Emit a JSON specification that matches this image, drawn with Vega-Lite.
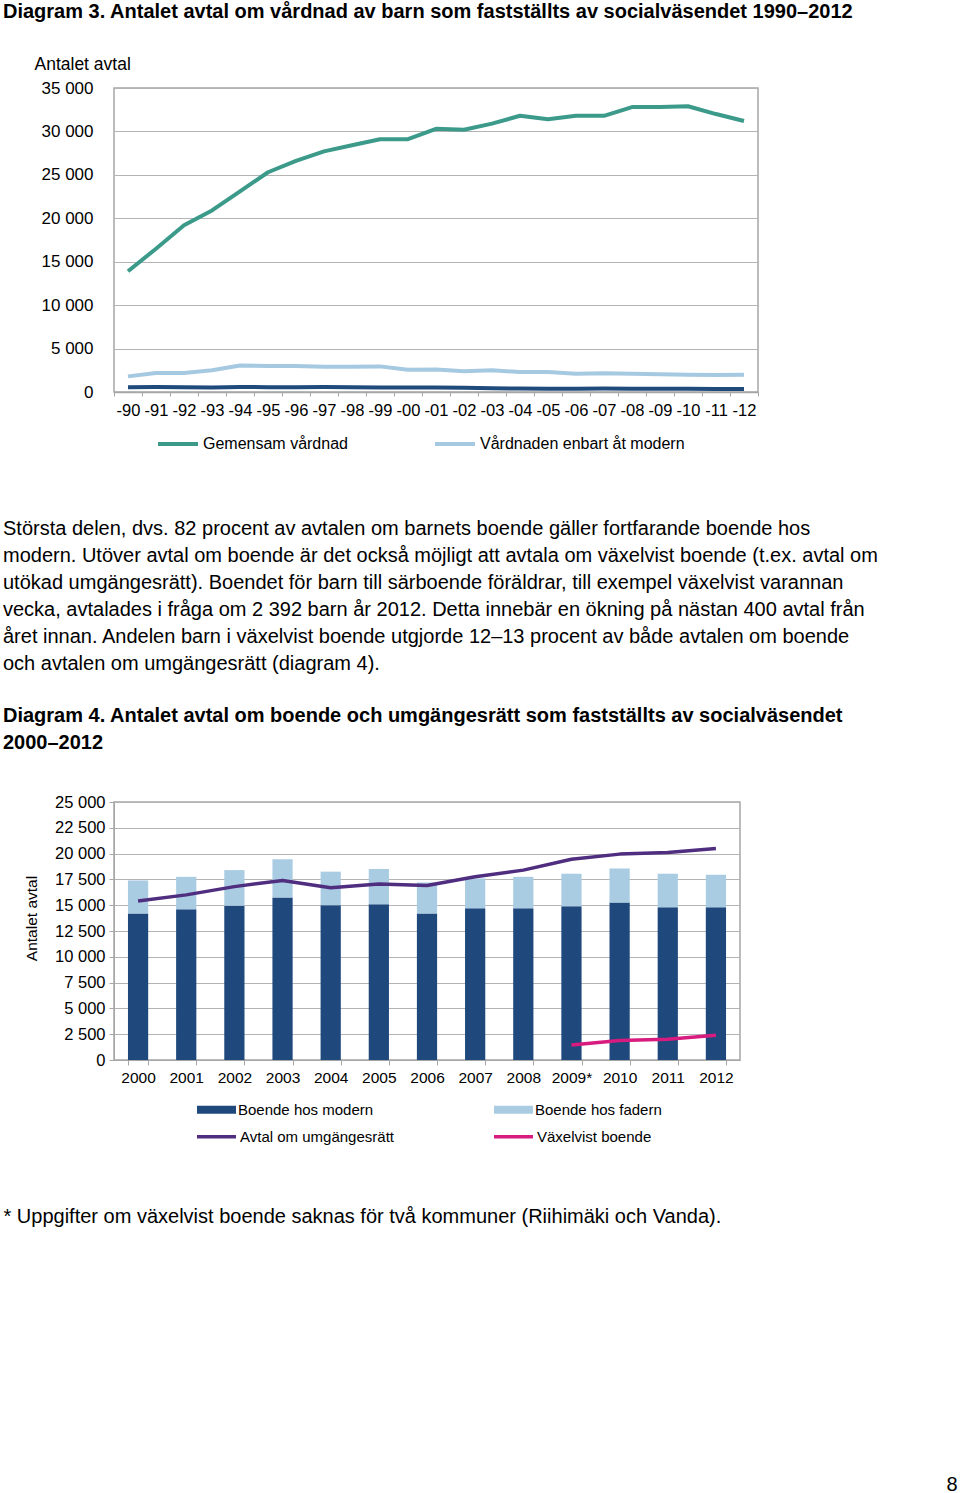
{
  "$schema": "https://vega.github.io/schema/vega-lite/v6.json",
  "padding": {"left": 2, "top": 1, "right": 0, "bottom": 0},
  "background": "white",
  "config": {
    "font": "Liberation Sans",
    "view": {"stroke": "#A6A6A6", "strokeWidth": 1.5},
    "axis": {"labelColor": "black", "titleColor": "black", "labelFont": "Liberation Sans", "titleFont": "Liberation Sans", "gridColor": "#B4B4B4", "gridWidth": 1.2, "domainColor": "#A6A6A6", "tickColor": "#A6A6A6"},
    "legend": {"labelColor": "black", "labelFont": "Liberation Sans", "padding": 0, "labelLimit": 0}
  },
  "title": {"text": "8", "orient": "bottom", "anchor": "end", "offset": 248, "dx": 79, "fontSize": 20, "fontWeight": "normal", "font": "Liberation Sans", "color": "black"},
  "resolve": {"scale": {"stroke": "independent", "fill": "independent"}, "legend": {"stroke": "independent", "fill": "independent"}},
  "datasets": {
    "d3": [
      {"ar": "-90", "serie": "Gemensam vårdnad", "antal": 13900},
      {"ar": "-91", "serie": "Gemensam vårdnad", "antal": 16500},
      {"ar": "-92", "serie": "Gemensam vårdnad", "antal": 19200},
      {"ar": "-93", "serie": "Gemensam vårdnad", "antal": 20900},
      {"ar": "-94", "serie": "Gemensam vårdnad", "antal": 23100},
      {"ar": "-95", "serie": "Gemensam vårdnad", "antal": 25300},
      {"ar": "-96", "serie": "Gemensam vårdnad", "antal": 26600},
      {"ar": "-97", "serie": "Gemensam vårdnad", "antal": 27700},
      {"ar": "-98", "serie": "Gemensam vårdnad", "antal": 28400},
      {"ar": "-99", "serie": "Gemensam vårdnad", "antal": 29100},
      {"ar": "-00", "serie": "Gemensam vårdnad", "antal": 29100},
      {"ar": "-01", "serie": "Gemensam vårdnad", "antal": 30300},
      {"ar": "-02", "serie": "Gemensam vårdnad", "antal": 30200},
      {"ar": "-03", "serie": "Gemensam vårdnad", "antal": 30900},
      {"ar": "-04", "serie": "Gemensam vårdnad", "antal": 31800},
      {"ar": "-05", "serie": "Gemensam vårdnad", "antal": 31400},
      {"ar": "-06", "serie": "Gemensam vårdnad", "antal": 31800},
      {"ar": "-07", "serie": "Gemensam vårdnad", "antal": 31800},
      {"ar": "-08", "serie": "Gemensam vårdnad", "antal": 32800},
      {"ar": "-09", "serie": "Gemensam vårdnad", "antal": 32800},
      {"ar": "-10", "serie": "Gemensam vårdnad", "antal": 32900},
      {"ar": "-11", "serie": "Gemensam vårdnad", "antal": 32000},
      {"ar": "-12", "serie": "Gemensam vårdnad", "antal": 31200},
      {"ar": "-90", "serie": "Vårdnaden enbart åt modern", "antal": 1800},
      {"ar": "-91", "serie": "Vårdnaden enbart åt modern", "antal": 2200},
      {"ar": "-92", "serie": "Vårdnaden enbart åt modern", "antal": 2200},
      {"ar": "-93", "serie": "Vårdnaden enbart åt modern", "antal": 2500},
      {"ar": "-94", "serie": "Vårdnaden enbart åt modern", "antal": 3050},
      {"ar": "-95", "serie": "Vårdnaden enbart åt modern", "antal": 3000},
      {"ar": "-96", "serie": "Vårdnaden enbart åt modern", "antal": 3000},
      {"ar": "-97", "serie": "Vårdnaden enbart åt modern", "antal": 2900},
      {"ar": "-98", "serie": "Vårdnaden enbart åt modern", "antal": 2900},
      {"ar": "-99", "serie": "Vårdnaden enbart åt modern", "antal": 2950},
      {"ar": "-00", "serie": "Vårdnaden enbart åt modern", "antal": 2550},
      {"ar": "-01", "serie": "Vårdnaden enbart åt modern", "antal": 2600},
      {"ar": "-02", "serie": "Vårdnaden enbart åt modern", "antal": 2400},
      {"ar": "-03", "serie": "Vårdnaden enbart åt modern", "antal": 2500},
      {"ar": "-04", "serie": "Vårdnaden enbart åt modern", "antal": 2300},
      {"ar": "-05", "serie": "Vårdnaden enbart åt modern", "antal": 2300},
      {"ar": "-06", "serie": "Vårdnaden enbart åt modern", "antal": 2100},
      {"ar": "-07", "serie": "Vårdnaden enbart åt modern", "antal": 2150},
      {"ar": "-08", "serie": "Vårdnaden enbart åt modern", "antal": 2100},
      {"ar": "-09", "serie": "Vårdnaden enbart åt modern", "antal": 2050},
      {"ar": "-10", "serie": "Vårdnaden enbart åt modern", "antal": 2000},
      {"ar": "-11", "serie": "Vårdnaden enbart åt modern", "antal": 1950},
      {"ar": "-12", "serie": "Vårdnaden enbart åt modern", "antal": 2000},
      {"ar": "-90", "serie": "Vårdnaden enbart åt fadern", "antal": 550},
      {"ar": "-91", "serie": "Vårdnaden enbart åt fadern", "antal": 580},
      {"ar": "-92", "serie": "Vårdnaden enbart åt fadern", "antal": 560},
      {"ar": "-93", "serie": "Vårdnaden enbart åt fadern", "antal": 530},
      {"ar": "-94", "serie": "Vårdnaden enbart åt fadern", "antal": 580},
      {"ar": "-95", "serie": "Vårdnaden enbart åt fadern", "antal": 560},
      {"ar": "-96", "serie": "Vårdnaden enbart åt fadern", "antal": 560},
      {"ar": "-97", "serie": "Vårdnaden enbart åt fadern", "antal": 570},
      {"ar": "-98", "serie": "Vårdnaden enbart åt fadern", "antal": 540},
      {"ar": "-99", "serie": "Vårdnaden enbart åt fadern", "antal": 530},
      {"ar": "-00", "serie": "Vårdnaden enbart åt fadern", "antal": 520},
      {"ar": "-01", "serie": "Vårdnaden enbart åt fadern", "antal": 510},
      {"ar": "-02", "serie": "Vårdnaden enbart åt fadern", "antal": 500},
      {"ar": "-03", "serie": "Vårdnaden enbart åt fadern", "antal": 420},
      {"ar": "-04", "serie": "Vårdnaden enbart åt fadern", "antal": 400},
      {"ar": "-05", "serie": "Vårdnaden enbart åt fadern", "antal": 380},
      {"ar": "-06", "serie": "Vårdnaden enbart åt fadern", "antal": 380},
      {"ar": "-07", "serie": "Vårdnaden enbart åt fadern", "antal": 400},
      {"ar": "-08", "serie": "Vårdnaden enbart åt fadern", "antal": 380},
      {"ar": "-09", "serie": "Vårdnaden enbart åt fadern", "antal": 360},
      {"ar": "-10", "serie": "Vårdnaden enbart åt fadern", "antal": 360},
      {"ar": "-11", "serie": "Vårdnaden enbart åt fadern", "antal": 340},
      {"ar": "-12", "serie": "Vårdnaden enbart åt fadern", "antal": 340}
    ],
    "bars": [
      {"ar": "2000", "serie": "Boende hos modern", "antal": 14200},
      {"ar": "2001", "serie": "Boende hos modern", "antal": 14600},
      {"ar": "2002", "serie": "Boende hos modern", "antal": 14950},
      {"ar": "2003", "serie": "Boende hos modern", "antal": 15750},
      {"ar": "2004", "serie": "Boende hos modern", "antal": 15000},
      {"ar": "2005", "serie": "Boende hos modern", "antal": 15100},
      {"ar": "2006", "serie": "Boende hos modern", "antal": 14200},
      {"ar": "2007", "serie": "Boende hos modern", "antal": 14700},
      {"ar": "2008", "serie": "Boende hos modern", "antal": 14700},
      {"ar": "2009*", "serie": "Boende hos modern", "antal": 14900},
      {"ar": "2010", "serie": "Boende hos modern", "antal": 15250},
      {"ar": "2011", "serie": "Boende hos modern", "antal": 14800},
      {"ar": "2012", "serie": "Boende hos modern", "antal": 14800},
      {"ar": "2000", "serie": "Boende hos fadern", "antal": 3200},
      {"ar": "2001", "serie": "Boende hos fadern", "antal": 3150},
      {"ar": "2002", "serie": "Boende hos fadern", "antal": 3450},
      {"ar": "2003", "serie": "Boende hos fadern", "antal": 3700},
      {"ar": "2004", "serie": "Boende hos fadern", "antal": 3250},
      {"ar": "2005", "serie": "Boende hos fadern", "antal": 3400},
      {"ar": "2006", "serie": "Boende hos fadern", "antal": 3000},
      {"ar": "2007", "serie": "Boende hos fadern", "antal": 2900},
      {"ar": "2008", "serie": "Boende hos fadern", "antal": 3050},
      {"ar": "2009*", "serie": "Boende hos fadern", "antal": 3150},
      {"ar": "2010", "serie": "Boende hos fadern", "antal": 3300},
      {"ar": "2011", "serie": "Boende hos fadern", "antal": 3250},
      {"ar": "2012", "serie": "Boende hos fadern", "antal": 3150}
    ],
    "lines": [
      {"ar": "2000", "serie": "Avtal om umgängesrätt", "antal": 15400},
      {"ar": "2001", "serie": "Avtal om umgängesrätt", "antal": 16000},
      {"ar": "2002", "serie": "Avtal om umgängesrätt", "antal": 16800},
      {"ar": "2003", "serie": "Avtal om umgängesrätt", "antal": 17400},
      {"ar": "2004", "serie": "Avtal om umgängesrätt", "antal": 16700},
      {"ar": "2005", "serie": "Avtal om umgängesrätt", "antal": 17050},
      {"ar": "2006", "serie": "Avtal om umgängesrätt", "antal": 16900},
      {"ar": "2007", "serie": "Avtal om umgängesrätt", "antal": 17750},
      {"ar": "2008", "serie": "Avtal om umgängesrätt", "antal": 18400},
      {"ar": "2009*", "serie": "Avtal om umgängesrätt", "antal": 19450},
      {"ar": "2010", "serie": "Avtal om umgängesrätt", "antal": 19950},
      {"ar": "2011", "serie": "Avtal om umgängesrätt", "antal": 20100},
      {"ar": "2012", "serie": "Avtal om umgängesrätt", "antal": 20500},
      {"ar": "2009*", "serie": "Växelvist boende", "antal": 1450},
      {"ar": "2010", "serie": "Växelvist boende", "antal": 1900},
      {"ar": "2011", "serie": "Växelvist boende", "antal": 2000},
      {"ar": "2012", "serie": "Växelvist boende", "antal": 2392}
    ]
  },
  "spacing": 66,
  "vconcat": [
    {
      "vconcat": [
        {
          "width": 644,
          "height": 304,
          "title": {
            "text": "Diagram 3. Antalet avtal om vårdnad av barn som fastställts av socialväsendet 1990–2012",
            "frame": "group", "anchor": "start", "dx": -111, "offset": 33,
            "fontSize": 20, "fontWeight": "bold", "font": "Liberation Sans", "color": "black"
          },
          "data": {"name": "d3"},
          "mark": {"type": "line", "strokeWidth": 4, "strokeJoin": "round"},
          "encoding": {
            "x": {
              "field": "ar", "type": "ordinal", "sort": null, "bandPosition": 0.5,
              "scale": {"type": "band", "paddingInner": 0, "paddingOuter": 0},
              "axis": {"title": null, "labelAngle": 0, "labelFontSize": 16.5, "labelOverlap": false, "ticks": true, "tickBand": "extent", "tickSize": 4, "labelPadding": 6, "grid": false, "domainWidth": 1.5}
            },
            "y": {
              "field": "antal", "type": "quantitative",
              "scale": {"domain": [0, 35000]},
              "axis": {
                "values": [0, 5000, 10000, 15000, 20000, 25000, 30000, 35000],
                "labelExpr": "replace(format(datum.value, ','), ',', ' ')",
                "labelFontSize": 17, "labelOverlap": false, "ticks": false, "labelPadding": 21, "domain": false,
                "title": "Antalet avtal", "titleAngle": 0, "titleX": -80, "titleY": -19,
                "titleAlign": "left", "titleBaseline": "alphabetic", "titleFontSize": 17.5, "titleFontWeight": "normal"
              }
            },
            "stroke": {
              "field": "serie", "type": "nominal",
              "scale": {"domain": ["Gemensam vårdnad", "Vårdnaden enbart åt modern", "Vårdnaden enbart åt fadern"], "range": ["#3B9A8A", "#A6C9E2", "#1F4A7C"]},
              "legend": {
                "orient": "none", "legendX": 42, "legendY": 334, "direction": "horizontal", "columns": 2,
                "title": null, "values": ["Gemensam vårdnad", "Vårdnaden enbart åt modern"],
                "symbolType": "stroke", "symbolSize": 1600, "symbolStrokeWidth": 4,
                "labelFontSize": 16, "labelOffset": 3, "columnPadding": 79
              }
            }
          }
        }
      ]
    },
    {
      "vconcat": [
        {
          "width": 626,
          "height": 258,
          "title": {
            "text": [
              "Största delen, dvs. 82 procent av avtalen om barnets boende gäller fortfarande boende hos",
              "modern. Utöver avtal om boende är det också möjligt att avtala om växelvist boende (t.ex. avtal om",
              "utökad umgängesrätt). Boendet för barn till särboende föräldrar, till exempel växelvist varannan",
              "vecka, avtalades i fråga om 2 392 barn år 2012. Detta innebär en ökning på nästan 400 avtal från",
              "året innan. Andelen barn i växelvist boende utgjorde 12–13 procent av både avtalen om boende",
              "och avtalen om umgängesrätt (diagram 4)."
            ],
            "subtitle": [
              "Diagram 4. Antalet avtal om boende och umgängesrätt som fastställts av socialväsendet",
              "2000–2012"
            ],
            "frame": "group", "anchor": "start", "dx": -111, "offset": 41,
            "fontSize": 20, "fontWeight": "normal", "font": "Liberation Sans", "color": "black", "lineHeight": 27,
            "subtitleFont": "Liberation Sans", "subtitleFontSize": 20, "subtitleFontWeight": "bold", "subtitleColor": "black",
            "subtitleLineHeight": 27, "subtitlePadding": 32
          },
          "encoding": {
            "y": {
              "field": "antal", "type": "quantitative",
              "scale": {"domain": [0, 25000]},
              "axis": {
                "values": [0, 2500, 5000, 7500, 10000, 12500, 15000, 17500, 20000, 22500, 25000],
                "labelExpr": "replace(format(datum.value, ','), ',', ' ')",
                "labelFontSize": 16.5, "labelOverlap": false, "ticks": true, "tickSize": 5, "labelPadding": 4, "domain": true,
                "title": "Antalet avtal", "titleAngle": 270, "titleX": -83, "titleY": 116,
                "titleAlign": "center", "titleBaseline": "middle", "titleFontSize": 15.5, "titleFontWeight": "normal"
              }
            }
          },
          "layer": [
            {
              "data": {"name": "bars"},
              "mark": {"type": "bar"},
              "encoding": {
                "x": {
                  "field": "ar", "type": "ordinal",
                  "scale": {"type": "band", "paddingInner": 0.58, "paddingOuter": 0.29},
                  "axis": {
                    "labelAngle": 0, "labelFontSize": 15.5, "labelOverlap": false, "ticks": true, "tickBand": "extent", "tickSize": 5, "labelPadding": 5, "grid": false,
                    "title": "* Uppgifter om växelvist boende saknas för två kommuner (Riihimäki och Vanda).",
                    "titleX": -111, "titleY": 162, "titleAlign": "left", "titleBaseline": "alphabetic",
                    "titleFontSize": 20, "titleFontWeight": "normal"
                  }
                },
                "fill": {
                  "field": "serie", "type": "nominal",
                  "scale": {"domain": ["Boende hos modern", "Boende hos fadern"], "range": ["#1F497D", "#A9CCE3"]},
                  "legend": {
                    "orient": "none", "legendX": 83, "legendY": 288, "direction": "horizontal", "columns": 2,
                    "title": null, "symbolType": "M-1,-0.2H1V0.2H-1Z", "symbolSize": 1521, "symbolStrokeWidth": 0,
                    "labelFontSize": 15, "labelOffset": 2, "columnPadding": 120
                  }
                },
                "order": {"field": "serie", "sort": "descending"}
              }
            },
            {
              "data": {"name": "lines"},
              "mark": {"type": "line", "strokeWidth": 3.5, "strokeJoin": "round"},
              "encoding": {
                "x": {"field": "ar", "type": "ordinal", "bandPosition": 0.5},
                "stroke": {
                  "field": "serie", "type": "nominal",
                  "scale": {"domain": ["Avtal om umgängesrätt", "Växelvist boende"], "range": ["#4F2D7F", "#D81B7E"]},
                  "legend": {
                    "orient": "none", "legendX": 81, "legendY": 313, "direction": "horizontal", "columns": 2,
                    "title": null, "symbolType": "stroke", "symbolSize": 1521, "symbolStrokeWidth": 3.5,
                    "labelFontSize": 15, "labelOffset": 2, "columnPadding": 93
                  }
                }
              }
            }
          ]
        }
      ]
    }
  ]
}
